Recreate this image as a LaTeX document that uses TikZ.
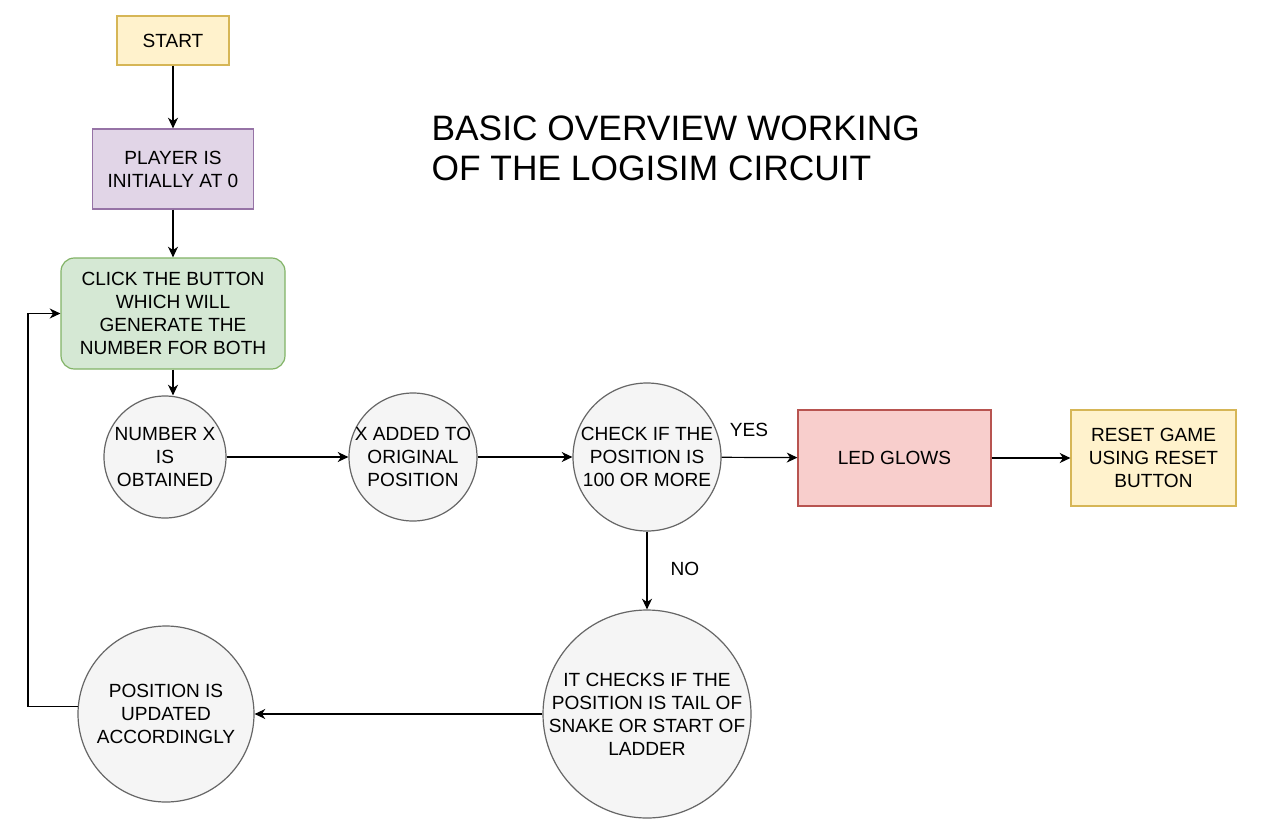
\documentclass[tikz,border=0pt]{standalone}
\usepackage{fontspec}
\setmainfont{Liberation Sans}
\usetikzlibrary{arrows.meta}

\definecolor{yelfill}{HTML}{FFF2CC}
\definecolor{yeldraw}{HTML}{D6B656}
\definecolor{purfill}{HTML}{E1D5E7}
\definecolor{purdraw}{HTML}{9673A6}
\definecolor{grnfill}{HTML}{D5E8D4}
\definecolor{grndraw}{HTML}{82B366}
\definecolor{redfill}{HTML}{F8CECC}
\definecolor{reddraw}{HTML}{B85450}
\definecolor{gryfill}{HTML}{F5F5F5}
\definecolor{grydraw}{HTML}{666666}

\tikzset{every picture/.style={line width=0.9pt}}
\tikzset{
  txt/.style={align=center,inner sep=0pt,font=\fontsize{14.3pt}{17.25pt}\selectfont,text=black},
  box/.style={draw,rectangle,txt},
  state/.style={draw=grydraw,fill=gryfill,circle,inner sep=0pt},
  arr/.style={-{Stealth[length=8pt,width=7.5pt,inset=2.5pt]}}
}

\begin{document}
\begin{tikzpicture}[x=0.75pt,y=0.75pt,yscale=-1,xscale=1]
	\path[fill=white] (0,0) rectangle (1280,835);

	%Shape: Rectangle [id:start]
	\node (start) [box,draw=yeldraw,fill=yelfill,minimum width=84pt,minimum height=36.75pt] at (173,40.5) {START};
	%Shape: Rectangle [id:player]
	\node (player) [box,draw=purdraw,fill=purfill,minimum width=120.75pt,minimum height=60pt] at (173,169) {PLAYER IS\\INITIALLY AT 0};
	%Rounded Rect [id:click]
	\node (click) [box,draw=grndraw,fill=grnfill,rounded corners=10pt,minimum width=168pt,minimum height=83.25pt] at (173,313.5) {CLICK THE BUTTON\\WHICH WILL\\GENERATE THE\\NUMBER FOR BOTH};

	%Shape: Circle [id:numx]
	\node (numx) [state,minimum size=91.5pt,label={[txt]center:NUMBER X\\IS\\OBTAINED}] at (165,457) {};
	%Shape: Circle [id:xadd]
	\node (xadd) [state,minimum size=96pt,label={[txt]center:X ADDED TO\\ORIGINAL\\POSITION}] at (413,457) {};
	%Shape: Circle [id:check]
	\node (check) [state,minimum size=111pt,label={[txt]center:CHECK IF THE\\POSITION IS\\100 OR MORE}] at (647,457) {};
	%Shape: Rectangle [id:led]
	\node (led) [box,draw=reddraw,fill=redfill,minimum width=144.75pt,minimum height=72pt] at (894.5,458) {LED GLOWS};
	%Shape: Rectangle [id:reset]
	\node (reset) [box,draw=yeldraw,fill=yelfill,minimum width=123.75pt,minimum height=72pt] at (1153.5,458) {RESET GAME\\USING RESET\\BUTTON};
	%Shape: Circle [id:itchk]
	\node (itchk) [state,minimum size=156pt,label={[txt]center:IT CHECKS IF THE\\POSITION IS TAIL OF\\SNAKE OR START OF\\LADDER}] at (647,714) {};
	%Shape: Circle [id:pos]
	\node (pos) [state,minimum size=132pt,label={[txt]center:POSITION IS\\UPDATED\\ACCORDINGLY}] at (166,714) {};

	\coordinate (bendtop) at (28,313.5);

	%Straight Lines
	\draw [arr] (start) -- (player);
	\draw [arr] (player) -- (click);
	\draw [arr] (click) -- (click |- numx.north);
	\draw [arr] (numx) -- (xadd);
	\draw [arr] (xadd) -- (check);
	\draw [arr] (check) -- (led);
	\draw [arr] (led) -- (reset);
	\draw [arr] (check) -- (itchk);
	\draw [arr] (itchk) -- (pos);
	\draw [arr] (pos.175) -| (bendtop) -- (click.west);

	% Text Node
	\node (yes) [txt] at (749,430) {YES};
	% Text Node
	\node (no) [txt] at (685,569) {NO};
	% Text Node
	\node (title) [anchor=west,align=left,inner sep=0pt,font=\fontsize{26.5pt}{30pt}\selectfont] at (431,148) {BASIC OVERVIEW WORKING\\OF THE LOGISIM CIRCUIT};

\end{tikzpicture}
\end{document}
